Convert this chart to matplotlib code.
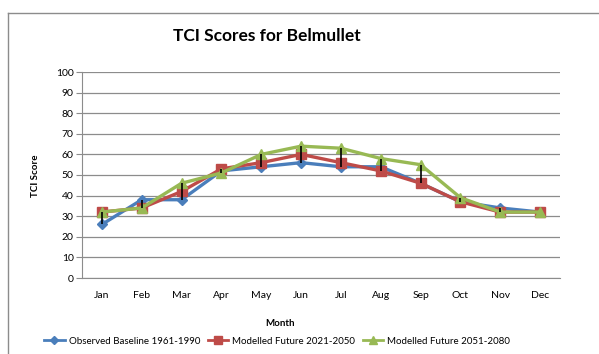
import matplotlib.pyplot as plt
from matplotlib.lines import Line2D

plt.rcParams['font.family'] = ['Lato', 'DejaVu Sans']

months = ['Jan', 'Feb', 'Mar', 'Apr', 'May', 'Jun', 'Jul', 'Aug', 'Sep', 'Oct', 'Nov', 'Dec']
observed = [26, 38, 38, 52, 54, 56, 54, 54, 46, 37, 34, 32]
future_2050 = [32, 34, 42, 53, 56, 60, 56, 52, 46, 37, 32, 32]
future_2080 = [32, 34, 46, 51, 60, 64, 63, 58, 55, 39, 32, 32]

series = [
    ('Observed Baseline 1961-1990', observed, '#4A7EBB', 'D', 5),
    ('Modelled Future 2021-2050', future_2050, '#BE4B48', 's', 7),
    ('Modelled Future 2051-2080', future_2080, '#98B954', '^', 7),
]

fig = plt.figure(figsize=(5.99, 3.54), dpi=100)
ax = fig.add_axes([82 / 599, 1 - 278 / 354, 478 / 599, 206 / 354])

x = list(range(len(months)))

# high-low lines between the three scenarios
lows = [min(v) for v in zip(observed, future_2050, future_2080)]
highs = [max(v) for v in zip(observed, future_2050, future_2080)]
ax.vlines(x, lows, highs, color='black', linewidth=1.2, zorder=5)

for label, vals, color, marker, ms in series:
    ax.plot(x, vals, color=color, linewidth=2.4, marker=marker, markersize=ms,
            markerfacecolor=color, markeredgecolor=color, label=label, zorder=3)

ax.set_xlim(-0.5, 11.5)
ax.set_ylim(0, 100)
ax.set_yticks(range(0, 101, 10))
ax.set_xticks(x)
ax.set_xticklabels(months)
ax.yaxis.grid(True, color='#8C8C8C', linewidth=0.9)
ax.set_axisbelow(True)

for side in ['top', 'right']:
    ax.spines[side].set_visible(False)
ax.spines['left'].set_color('#8C8C8C')
ax.spines['bottom'].set_color('#8C8C8C')
ax.tick_params(axis='y', length=4, color='#8C8C8C', labelsize=7.5, pad=2)
ax.tick_params(axis='x', length=0, labelsize=7.5, pad=9)

fig.text(267 / 599, 1 - 36 / 354, 'TCI Scores for Belmullet', ha='center', va='center',
         fontsize=12.5, fontweight='bold')
fig.text(35 / 599, 1 - 176 / 354, 'TCI Score', ha='center', va='center', rotation=90,
         fontsize=7, fontweight='bold')
fig.text(280 / 599, 1 - 323 / 354, 'Month', ha='center', va='center',
         fontsize=7, fontweight='bold')

handles = [Line2D([0], [0], color=c, marker=m, markersize=s - 1, linewidth=2) for _, _, c, m, s in series]
fig.legend(handles, [s[0] for s in series], loc='center', bbox_to_anchor=(277 / 599, 1 - 341 / 354),
           ncol=3, frameon=False, fontsize=7, handlelength=2.1, handletextpad=0.4,
           columnspacing=0.8, borderpad=0)

# chart area frame
fig.add_artist(Line2D([8 / 599, 8 / 599], [0, 1 - 13 / 354], color='#8C8C8C', linewidth=1,
                      transform=fig.transFigure))
fig.add_artist(Line2D([8 / 599, 1], [1 - 13 / 354, 1 - 13 / 354], color='#8C8C8C', linewidth=1,
                      transform=fig.transFigure))

fig.savefig('out.png', dpi=100)
